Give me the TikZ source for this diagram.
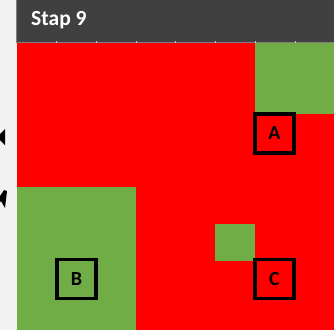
\documentclass[tikz,border=0pt]{standalone}
\usepackage{fontspec}
\setsansfont{Carlito}
\definecolor{cellred}{HTML}{FF0000}
\definecolor{cellgreen}{HTML}{70AD47}
\definecolor{barbg}{HTML}{404040}
\definecolor{pagebg}{HTML}{F2F2F2}
\begin{document}
\begin{tikzpicture}[x=1pt, y=-1pt, font=\sffamily\bfseries,
          markbox/.style={draw=black, line width=3.8pt, minimum width=39pt, minimum height=39pt, inner sep=0pt, font=\sffamily\bfseries\fontsize{20}{20}\selectfont},
          greencell/.style={fill=cellgreen}]
        \useasboundingbox (0,0) rectangle (334,330);
        \fill[pagebg] (0,0) rectangle (334,330);
        % header bar
        \fill[barbg] (16,0) rectangle (334,42);
        \draw[gray, line width=1pt] (16.5,0) -- (16.5,42);
        \node[anchor=west, text=white, inner sep=0pt, font=\sffamily\bfseries\fontsize{21.5}{21.5}\selectfont] (title) at (31,20) {Stap 9};
        % field of 8 columns
        \fill[cellred] (17,42) rectangle (334,330);
        \fill[greencell] (255,42) rectangle (334,114);
        \fill[greencell] (17,187) rectangle (136,330);
        \fill[greencell] (215,224) rectangle (255,261);
        \draw[gray, line width=1pt] (16,42) -- (334,42);
        \foreach \i in {1,...,7}
          \draw[gray!45, line width=0.7pt] (17+39.7*\i, 41) -- (17+39.7*\i, 43);
        % arrowheads cut at the left edge
        \fill[black] (0,134) -- (5,129) -- (5,145) -- (0,140) -- cycle;
        \fill[black] (0,196) -- (4,190) -- (7,191) -- (5,208) -- (1,201) -- (0,202) -- cycle;
        \node[markbox] (boxA) at (274.5,133.5) {A};
        \node[markbox] (boxB) at (76.5,279) {B};
        \node[markbox] (boxC) at (274.5,279) {C};
      \end{tikzpicture}
\end{document}
